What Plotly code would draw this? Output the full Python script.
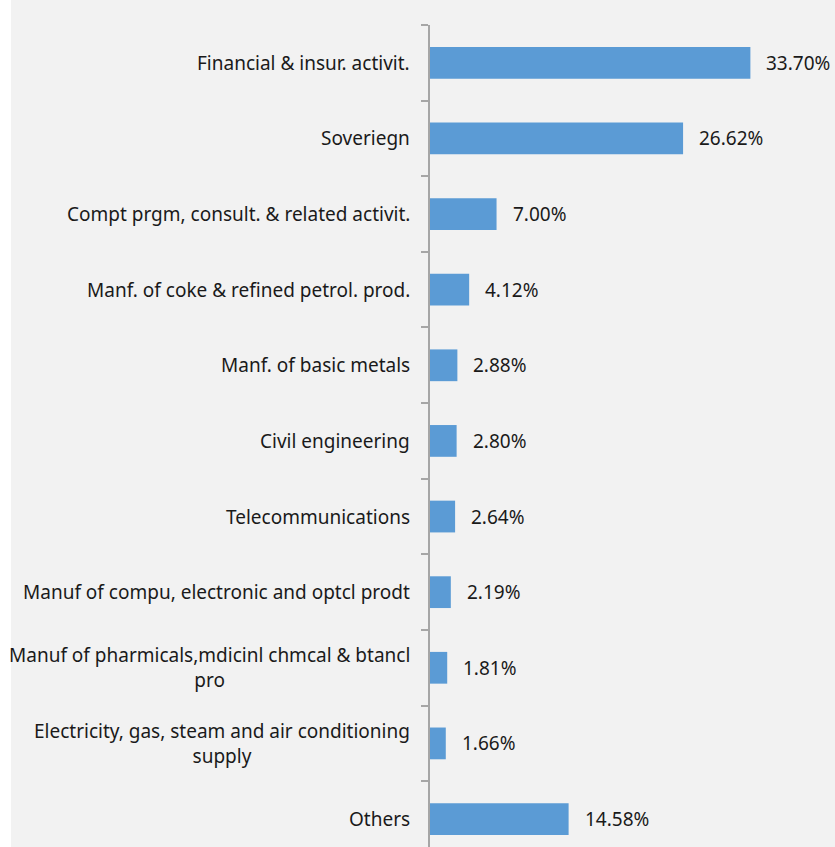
import plotly.graph_objects as go

categories = [
    "Financial & insur. activit.",
    "Soveriegn",
    "Compt prgm, consult. & related activit.",
    "Manf. of coke & refined petrol. prod.",
    "Manf. of basic metals",
    "Civil engineering",
    "Telecommunications",
    "Manuf of compu, electronic and optcl prodt",
    "Manuf of pharmicals,mdicinl chmcal & btancl<br>pro",
    "Electricity, gas, steam and air conditioning<br>supply",
    "Others",
]
values = [33.70, 26.62, 7.00, 4.12, 2.88, 2.80, 2.64, 2.19, 1.81, 1.66, 14.58]
value_labels = [f"{v:.2f}%" for v in values]

FONT = "Noto Sans"
TXT = "#1a1a1a"
BG = "#F2F2F2"
FS = 19

fig = go.Figure()
fig.add_trace(go.Bar(
    x=values, y=categories, orientation="h",
    marker=dict(color="#5B9BD5", line=dict(width=0)),
    hoverinfo="skip",
))

annotations = []
for c, v, lab in zip(categories, values, value_labels):
    annotations.append(dict(x=v, y=c, xref="x", yref="y", text=lab, showarrow=False,
                            xanchor="left", xshift=14, font=dict(family=FONT, size=FS, color=TXT)))
    annotations.append(dict(x=0, y=c, xref="x", yref="y", text=c, showarrow=False,
                            xanchor="right", align="center", xshift=-18,
                            font=dict(family=FONT, size=FS, color=TXT)))

fig.update_layout(
    width=835, height=847,
    margin=dict(l=430, r=0, t=25, b=0),
    paper_bgcolor=BG, plot_bgcolor=BG,
    bargap=0.58, showlegend=False,
    annotations=annotations,
    shapes=[dict(type="rect", xref="paper", yref="paper", xsizemode="pixel", ysizemode="pixel",
                 xanchor=0, yanchor=0, x0=-440, x1=-419, y0=-50, y1=900,
                 fillcolor="white", line=dict(width=0), layer="below")],
    xaxis=dict(visible=False, range=[0, 42.6]),
    yaxis=dict(type="category", categoryorder="array", categoryarray=categories,
               range=[10.37, -0.5], showticklabels=False, showgrid=False, zeroline=False,
               showline=True, linecolor="#A6A6A6", linewidth=2,
               ticks="outside", tickson="boundaries", ticklen=7, tickwidth=1.5, tickcolor="#A6A6A6"),
)

fig.write_html("out.html")
